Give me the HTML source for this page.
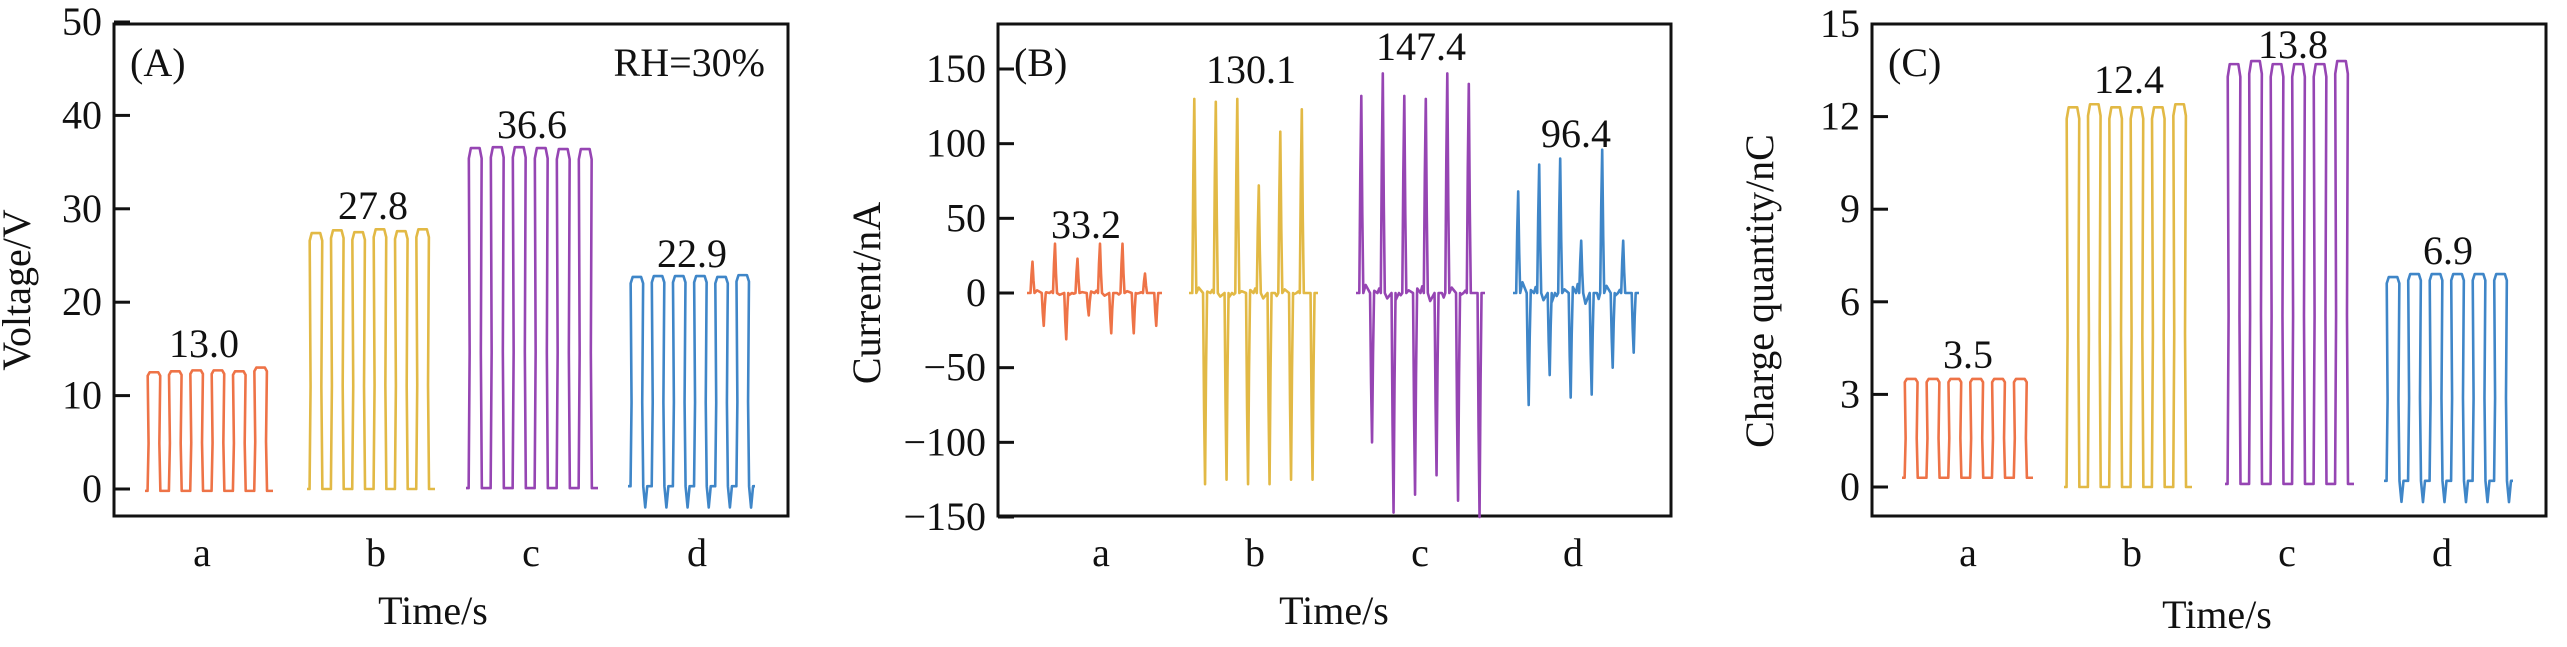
<!DOCTYPE html>
<html><head><meta charset="utf-8">
<style>
html,body{margin:0;padding:0;background:#fff;}
svg{display:block;font-family:"Liberation Serif",serif;}
text{fill:#111;}
</style></head>
<body>
<svg id="fig" width="2567" height="647" viewBox="0 0 2567 647" xmlns="http://www.w3.org/2000/svg"></svg>
<script>
const categories = ["a","b","c","d"];
const colors = ["#ee7347","#e2b945","#9645b3","#3f86c8"];
// Panel A: voltage pulse heights (V)
const voltA = [12.5,12.6,12.7,12.7,12.6,13.0];
const voltB = [27.4,27.7,27.5,27.8,27.6,27.8];
const voltC = [36.5,36.6,36.6,36.5,36.4,36.4];
const voltD = [22.7,22.8,22.8,22.8,22.7,22.9];
const voltLow = [-0.2,0,0.1,0.3];
const voltLabels = ["13.0","27.8","36.6","22.9"];
const voltTicks = [0,10,20,30,40,50];
// Panel B: current spikes (nA)
const curPosA = [21,33,23,33,33,13];
const curNegA = [-22,-31,-15,-27,-27,-22];
const curPosB = [130,128,130,72,108,123];
const curNegB = [-128,-125,-128,-128,-125,-125];
const curPosC = [132,147,132,130,147,140];
const curNegC = [-100,-147,-135,-122,-139,-150];
const curPosD = [68,86,90,35,96,35];
const curNegD = [-75,-55,-70,-68,-50,-40];
const curLabels = ["33.2","130.1","147.4","96.4"];
const curTicks = [-150,-100,-50,0,50,100,150];
// Panel C: charge pulse heights (nC)
const chgA = [3.5,3.5,3.5,3.5,3.5,3.5];
const chgB = [12.3,12.4,12.3,12.3,12.3,12.4];
const chgC = [13.7,13.8,13.7,13.7,13.7,13.8];
const chgD = [6.8,6.9,6.9,6.9,6.9,6.9];
const chgLow = [0.3,0,0.1,0.2];
const chgLabels = ["3.5","12.4","13.8","6.9"];
const chgTicks = [0,3,6,9,12,15];

const svg = document.getElementById('fig');
const NS = "http://www.w3.org/2000/svg";
function mk(tag, attrs, parent){
  const e = document.createElementNS(NS, tag);
  for (const k in attrs) e.setAttribute(k, attrs[k]);
  (parent||svg).appendChild(e);
  return e;
}
function txt(str, x, y, anchor, size, parent){
  const t = mk('text', {x:x, y:y, 'text-anchor':anchor, 'font-size':size}, parent);
  t.textContent = str;
  return t;
}

function panel(cfg){
  const g = mk('g', {});
  
  
  const ys = v => cfg.py0 + (v - cfg.v0) * (cfg.py1 - cfg.py0) / (cfg.v1 - cfg.v0);
  // frame
  const fr = mk('rect', {x:cfg.fx0, y:cfg.fy0, width:cfg.fx1-cfg.fx0, height:cfg.fy1-cfg.fy0, fill:'none', stroke:'#111', 'stroke-width':3}, g);
  
  
  // ticks
  cfg.ticks.forEach(v => {
    const y = ys(v);
    const tk = mk('line', {x1:cfg.fx0, x2:cfg.fx0+16, y1:y, y2:y, stroke:'#111', 'stroke-width':3}, g);
    
    
    const lbl = txt(String(v).replace('-', '\u2212'), cfg.fx0-12, y+13, 'end', 40, g);
    
    
  });
  // y title
  const yt = mk('text', {x:0, y:0, 'text-anchor':'middle', 'font-size':40, transform:`translate(${cfg.ytx},${cfg.yty}) rotate(-90)`}, g);
  yt.textContent = cfg.ytitle;
  
  
  // x title
  const xt = txt('Time/s', cfg.xtx, cfg.xty, 'middle', 40, g);
  
  
  // panel letter
  const pl = txt(cfg.letter, cfg.fx0+16, 76, 'start', 40, g);
  
  
  // categories and series
  categories.forEach((c, i) => {
    const cl = txt(c, cfg.catX[i], cfg.catY, 'middle', 40, g);
    
    
    const sx0 = cfg.segs[i][0], sx1 = cfg.segs[i][1];
    let d;
    if (cfg.type === 'square') d = squarePath(cfg.series[i], cfg.low[i], sx0, sx1, ys, i===3);
    else d = spikePath(cfg.pos[i], cfg.neg[i], sx0, sx1, ys, i);
    const p = mk('path', {d:d, fill:'none', stroke:colors[i], 'stroke-width':2.6, 'stroke-linejoin':'round'}, g);
    
    
    const vl = txt(cfg.labels[i], cfg.labX[i], cfg.labY[i], 'middle', 40, g);
    
    
  });
  return g;
}

function squarePath(highs, low, x0, x1, ys, dips){
  const n = highs.length, P = (x1 - x0) / n;
  let d = `M${x0},${ys(low)}`;
  highs.forEach((h, k) => {
    const s = x0 + k*P;
    const r0 = s + P*0.12, r1 = s + P*0.22, f0 = s + P*0.62, f1 = s + P*0.72;
    d += ` L${r0},${ys(low)} L${r0+1},${ys(low + (h-low)*0.4)} L${r1-2},${ys(h*0.97)} L${r1},${ys(h)} L${f0},${ys(h)} L${f0+2},${ys(h*0.97)} L${f1-1},${ys(low + (h-low)*0.4)} L${f1},${ys(low)}`;
    if (dips) {
      const dd = low - (ys(0)-ys(1))*0 - (h*0.1);
      d += ` L${f1+2},${ys(dd)} L${f1+4},${ys(low)}`;
    }
    d += ` L${s+P},${ys(low)}`;
  });
  return d;
}

function spikePath(pos, neg, x0, x1, ys, si){
  const n = pos.length, P = (x1 - x0) / n;
  const noise = [0,2,-1,3,-2,1,-3,2,0,-1];
  let d = `M${x0},${ys(0)}`;
  pos.forEach((pv, k) => {
    const s = x0 + k*P;
    const a = s + P*0.2, b = s + P*0.7;
    d += ` L${s+P*0.08},${ys(noise[k%10]*(si+1)*0.5)} L${a-1},${ys(0)} L${a},${ys(pv*0.6)} L${a+1},${ys(pv)} L${a+2},${ys(pv*0.4)} L${a+3},${ys(0)}`;
    d += ` L${s+P*0.45},${ys(noise[(k+3)%10]*(si+1)*0.6)} L${b-1},${ys(0)} L${b},${ys(neg[k]*0.6)} L${b+1},${ys(neg[k])} L${b+2},${ys(neg[k]*0.4)} L${b+3},${ys(0)}`;
    d += ` L${s+P*0.85},${ys(noise[(k+5)%10]*(si+1)*0.5)} L${s+P},${ys(0)}`;
  });
  return d;
}

panel({name:'panel-a-voltage', type:'square', letter:'(A)', fx0:114, fx1:788, fy0:24, fy1:516,
  v0:0, v1:50, py0:489, py1:22, ticks:voltTicks, ytitle:'Voltage/V', ytx:30, yty:290,
  xtx:433, xty:624, catX:[202,376,531,697], catY:566,
  segs:[[145,273],[307,435],[466,598],[628,755]],
  series:[voltA,voltB,voltC,voltD], low:voltLow, labels:voltLabels,
  labX:[204,373,532,692], labY:[357,219,138,267]});
const rh = txt('RH=30%', 765, 76, 'end', 40);



panel({name:'panel-b-current', type:'spike', letter:'(B)', fx0:998, fx1:1671, fy0:24, fy1:516,
  v0:0, v1:150, py0:293, py1:69, ticks:curTicks, ytitle:'Current/nA', ytx:880, yty:293,
  xtx:1334, xty:624, catX:[1101,1255,1420,1573], catY:566,
  segs:[[1027,1162],[1189,1318],[1356,1485],[1513,1639]],
  pos:[curPosA,curPosB,curPosC,curPosD], neg:[curNegA,curNegB,curNegC,curNegD], labels:curLabels,
  labX:[1086,1251,1421,1576], labY:[238,83,60,147]});

panel({name:'panel-c-charge', type:'square', letter:'(C)', fx0:1872, fx1:2546, fy0:24, fy1:516,
  v0:0, v1:15, py0:487, py1:24, ticks:chgTicks, ytitle:'Charge quantity/nC', ytx:1773, yty:291,
  xtx:2217, xty:628, catX:[1968,2132,2287,2442], catY:566,
  segs:[[1902,2033],[2064,2192],[2225,2354],[2384,2513]],
  series:[chgA,chgB,chgC,chgD], low:chgLow, labels:chgLabels,
  labX:[1968,2129,2293,2448], labY:[368,93,58,264]});
</script>
</body></html>
